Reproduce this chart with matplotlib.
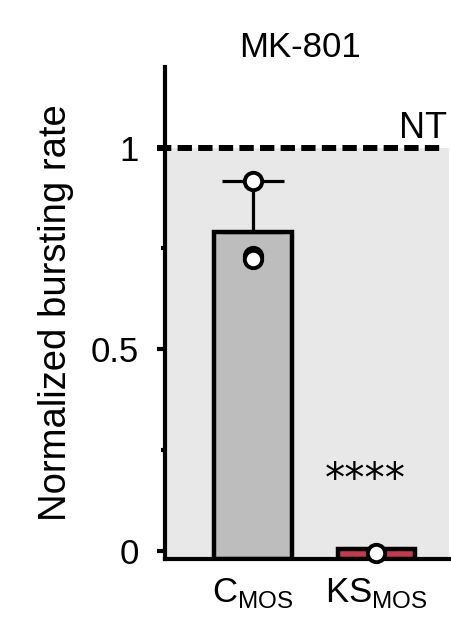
import numpy as np
import matplotlib.pyplot as plt
from matplotlib.ticker import MultipleLocator

plt.rcParams['font.family'] = ['Liberation Sans', 'DejaVu Sans']
plt.rcParams['mathtext.fontset'] = 'custom'
plt.rcParams['mathtext.rm'] = 'Liberation Sans'

# Normalized bursting rate after MK-801 (NT = 1)
groups = [r'C$_\mathregular{MOS}$', r'KS$_\mathregular{MOS}$']
bar_means = [0.79, 0.005]
c_points = [0.918, 0.732, 0.724]
ks_points = [-0.006]
c_err = 0.128
bar_colors = ['#bdbdbd', '#c43a4c']
sig_label = '****'

ybot = -0.02
x = np.arange(len(groups))

fig = plt.figure(figsize=(4.51, 6.32), dpi=100)
ax = fig.add_axes([0.366, 0.1155, 0.63, 0.7785])

# shaded area below the NT level
ax.axhspan(ybot, 1.0, color='#e8e8e8', zorder=0, lw=0)
ax.axhline(1.0, xmin=-0.03, xmax=0.97, color='black', lw=4.3, dashes=(2.4, 1.05),
           zorder=3, clip_on=False)

ax.bar(x, np.array(bar_means) - ybot, bottom=ybot, width=0.63,
       color=bar_colors, edgecolor='black', linewidth=3.2, zorder=2)

# upper error bar for the control group only
ax.errorbar(x[0], bar_means[0], yerr=[[0], [c_err]], fmt='none', ecolor='black',
            elinewidth=2.3, capsize=22, capthick=2.3, zorder=3)

for xi, pts in zip(x, [c_points, ks_points]):
    ax.plot([xi] * len(pts), pts, 'o', ms=12.5, mfc='white', mec='black',
            mew=2.8, zorder=4, clip_on=False)

ax.text(x[1] - 0.09, 0.173, sig_label, ha='center', va='center', fontsize=29,
        family='DejaVu Sans')
ax.text(1.57, 1.004, 'NT', ha='right', va='bottom', fontsize=26)

ax.set_xlim(-0.715, 1.59)
ax.set_ylim(ybot, 1.2)
ax.set_yticks([0, 0.5, 1])
ax.set_yticklabels(['0', '0.5', '1'])
ax.yaxis.set_minor_locator(MultipleLocator(0.25))
ax.set_xticks(x)
ax.set_xticklabels(groups)
ax.tick_params(axis='y', which='major', length=6, width=3.0, pad=13, labelsize=25)
ax.tick_params(axis='y', which='minor', length=3, width=3.0)
ax.tick_params(axis='x', length=0, pad=12, labelsize=25)
ax.set_ylabel('Normalized bursting rate', fontsize=27.5, labelpad=12)

for side in ['top', 'right']:
    ax.spines[side].set_visible(False)
for side in ['left', 'bottom']:
    ax.spines[side].set_linewidth(3.0)

fig.text(300 / 451, 1 - 57 / 632, 'MK-801', ha='center', va='baseline', fontsize=25)

fig.savefig('out.png', dpi=100, facecolor='white')
